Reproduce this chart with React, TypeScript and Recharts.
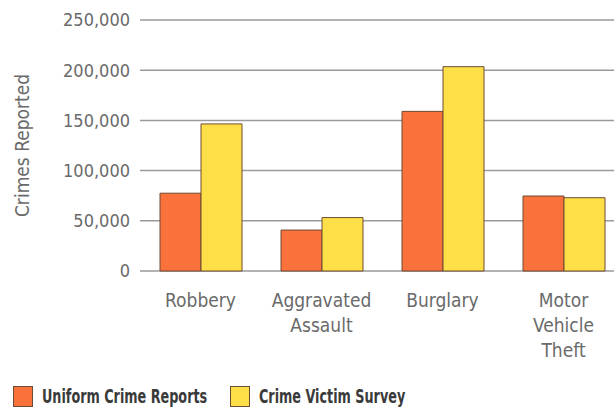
import { Bar, BarChart, CartesianGrid, Legend, XAxis, YAxis } from 'recharts'

const categories = ['Robbery', 'Aggravated Assault', 'Burglary', 'Motor Vehicle Theft']
const uniformCrimeReports = [77500, 40800, 159000, 74700]
const crimeVictimSurvey = [146500, 53200, 203500, 73000]
const yTicks = [0, 50000, 100000, 150000, 200000, 250000]

// label lines under each category
const TICK_LINES: Record<string, string[]> = {
  Robbery: ['Robbery'],
  'Aggravated Assault': ['Aggravated', 'Assault'],
  Burglary: ['Burglary'],
  'Motor Vehicle Theft': ['Motor', 'Vehicle', 'Theft'],
}

const FONT = "'Liberation Sans Narrow', 'DejaVu Sans Condensed', 'Arial Narrow', sans-serif"
const ORANGE = '#f9713b'
const YELLOW = '#fddf47'
const EDGE = '#6e4b35'
const TEXT = '#6a6a6a'

const data = categories.map((name, i) => ({
  name,
  ucr: uniformCrimeReports[i],
  cvs: crimeVictimSurvey[i],
}))

function CategoryTick({ x, y, payload }: any) {
  const lines = TICK_LINES[payload.value] || [payload.value]
  return (
    <text fill={TEXT} fontFamily={FONT} fontSize={19} textAnchor="middle" x={x} y={y}>
      {lines.map((line, i) => (
        <tspan key={line} x={x} dy={i === 0 ? 28 : 25}>
          {line}
        </tspan>
      ))}
    </text>
  )
}

function LegendContent() {
  const items = [
    { label: 'Uniform Crime Reports', color: ORANGE, width: 217 },
    { label: 'Crime Victim Survey', color: YELLOW, width: 200 },
  ]
  return (
    <div style={{ display: 'flex', height: 26, boxSizing: 'border-box', paddingTop: 4, paddingLeft: 13 }}>
      {items.map((item) => (
        <div key={item.label} style={{ display: 'flex', alignItems: 'flex-start', width: item.width }}>
          <span
            style={{
              flex: 'none',
              width: 18,
              height: 19,
              background: item.color,
              border: `1px solid ${EDGE}`,
              marginRight: 9,
            }}
          />
          <span
            style={{
              display: 'inline-block',
              whiteSpace: 'nowrap',
              fontFamily: FONT,
              fontWeight: 700,
              fontSize: 20,
              lineHeight: '20px',
              color: '#3a3a3a',
              transform: 'scaleX(0.71)',
              transformOrigin: 'left center',
            }}
          >
            {item.label}
          </span>
        </div>
      ))}
    </div>
  )
}

export default function App() {
  return (
    <div
      style={{
        position: 'absolute',
        left: 0,
        top: 0,
        width: 614,
        height: 408,
        overflow: 'hidden',
        background: '#fff',
      }}
    >
      <BarChart
        barCategoryGap={20}
        barGap={0}
        data={data}
        height={408}
        margin={{ top: 20, right: 6, bottom: 0, left: 0 }}
        width={630}
      >
        <CartesianGrid horizontal stroke="#9a9a9a" strokeWidth={1.5} vertical={false} />
        <XAxis axisLine={false} dataKey="name" height={111} interval={0} tick={<CategoryTick />} tickLine={false} />
        <YAxis
          axisLine={false}
          domain={[0, 250000]}
          label={{
            value: 'Crimes Reported',
            angle: -90,
            position: 'insideLeft',
            offset: 22,
            style: { textAnchor: 'middle', fill: TEXT, fontFamily: FONT, fontSize: 19 },
          }}
          tick={{ fill: TEXT, fontFamily: FONT, fontSize: 18 }}
          tickFormatter={(v: number) => v.toLocaleString('en-US')}
          tickLine={false}
          tickMargin={4}
          ticks={yTicks}
          width={140}
        />
        <Legend align="left" content={<LegendContent />} verticalAlign="bottom" />
        <Bar dataKey="ucr" fill={ORANGE} isAnimationActive={false} name="Uniform Crime Reports" stroke={EDGE} strokeWidth={1} />
        <Bar dataKey="cvs" fill={YELLOW} isAnimationActive={false} name="Crime Victim Survey" stroke={EDGE} strokeWidth={1} />
      </BarChart>
    </div>
  )
}
